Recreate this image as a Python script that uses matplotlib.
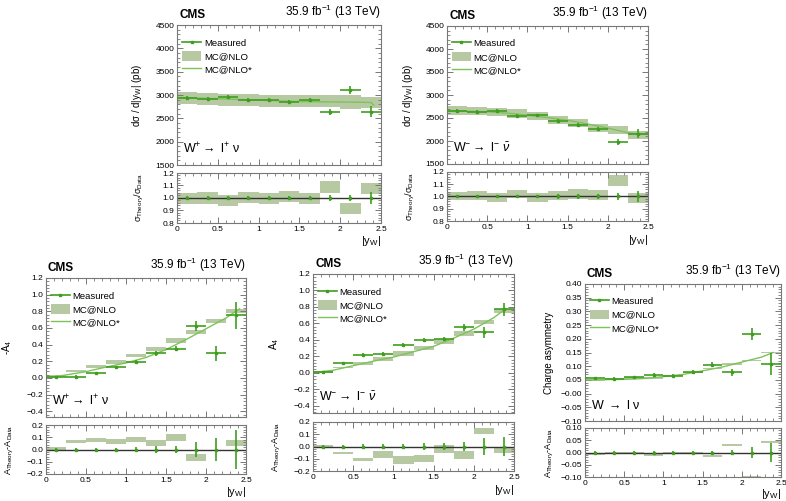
import numpy as np
import matplotlib
matplotlib.use('Agg')
import matplotlib.pyplot as plt
from matplotlib.patches import Patch
from matplotlib.lines import Line2D
from matplotlib.ticker import MultipleLocator, FuncFormatter

plt.rcParams['font.family'] = ['Liberation Sans', 'DejaVu Sans']
plt.rcParams['mathtext.fontset'] = 'custom'
plt.rcParams['mathtext.rm'] = 'Liberation Sans'
plt.rcParams['mathtext.it'] = 'Liberation Sans:italic'
plt.rcParams['mathtext.bf'] = 'Liberation Sans:bold'

# |y_W| binning
bin_edges = [0.0, 0.25, 0.5, 0.75, 1.0, 1.25, 1.5, 1.75, 2.0, 2.25, 2.5]

# W+ differential cross section (pb)
wp_xsec = [2940, 2920, 2960, 2890, 2900, 2850, 2890, 2640, 3110, 2640]
wp_xsec_err = [45, 45, 45, 45, 45, 45, 45, 60, 80, 120]
wp_xsec_mc = [2930, 2920, 2900, 2900, 2880, 2880, 2870, 2870, 2850, 2840]
wp_xsec_mc_err = [130, 130, 130, 130, 130, 130, 130, 130, 140, 120]
wp_xsec_curve_x = [0.0, 0.25, 0.5, 0.75, 1.0, 1.25, 1.5, 1.75, 2.0, 2.25, 2.38, 2.41]
wp_xsec_curve_y = [2950, 2935, 2920, 2905, 2890, 2875, 2860, 2855, 2850, 2845, 2840, 2780]

# W- differential cross section (pb)
wm_xsec = [2650, 2630, 2650, 2545, 2555, 2435, 2350, 2260, 1980, 2160]
wm_xsec_err = [40, 40, 40, 40, 40, 40, 40, 45, 60, 100]
wm_xsec_mc = [2665, 2650, 2625, 2595, 2540, 2460, 2395, 2285, 2245, 2130]
wm_xsec_mc_err = [90, 90, 90, 90, 90, 90, 90, 90, 90, 90]
wm_xsec_curve_x = [0.0, 0.25, 0.5, 0.75, 1.0, 1.25, 1.5, 1.75, 2.0, 2.25, 2.4, 2.5]
wm_xsec_curve_y = [2655, 2648, 2635, 2605, 2560, 2510, 2450, 2370, 2280, 2180, 2150, 2150]

# W+ angular coefficient -A4
wp_a4 = [0.01, 0.015, 0.06, 0.125, 0.19, 0.295, 0.35, 0.62, 0.295, 0.75]
wp_a4_err = [0.015, 0.015, 0.015, 0.015, 0.02, 0.03, 0.03, 0.06, 0.09, 0.16]
wp_a4_mc = [0.02, 0.08, 0.135, 0.19, 0.27, 0.35, 0.45, 0.555, 0.68, 0.805]
wp_a4_mc_err = [0.01, 0.01, 0.015, 0.02, 0.02, 0.025, 0.03, 0.025, 0.025, 0.025]
wp_a4_curve_x = [0.0, 0.25, 0.5, 0.75, 1.0, 1.25, 1.5, 1.75, 2.0, 2.25, 2.42]
wp_a4_curve_y = [0.0, 0.035, 0.075, 0.13, 0.18, 0.245, 0.34, 0.46, 0.59, 0.72, 0.83]

# W- angular coefficient A4
wm_a4 = [0.01, 0.12, 0.215, 0.23, 0.34, 0.40, 0.405, 0.55, 0.49, 0.77]
wm_a4_err = [0.015, 0.015, 0.02, 0.02, 0.02, 0.025, 0.025, 0.04, 0.07, 0.08]
wm_a4_mc = [0.01, 0.065, 0.11, 0.165, 0.23, 0.30, 0.385, 0.48, 0.615, 0.745]
wm_a4_mc_err = [0.01, 0.008, 0.015, 0.025, 0.03, 0.03, 0.03, 0.03, 0.025, 0.025]
wm_a4_curve_x = [0.0, 0.25, 0.5, 0.75, 1.0, 1.25, 1.5, 1.75, 2.0, 2.25, 2.4]
wm_a4_curve_y = [0.0, 0.03, 0.085, 0.14, 0.19, 0.255, 0.32, 0.42, 0.53, 0.67, 0.78]

# Charge asymmetry
asym = [0.056, 0.055, 0.059, 0.067, 0.065, 0.079, 0.106, 0.078, 0.218, 0.108]
asym_err = [0.006, 0.006, 0.006, 0.007, 0.006, 0.006, 0.008, 0.012, 0.022, 0.04]
asym_mc = [0.048, 0.053, 0.057, 0.057, 0.066, 0.077, 0.092, 0.108, 0.121, 0.15]
asym_mc_err = [0.003, 0.003, 0.003, 0.003, 0.003, 0.003, 0.003, 0.003, 0.003, 0.003]
asym_curve_x = [0.0, 0.5, 0.75, 1.0, 1.25, 1.5, 1.75, 2.0, 2.25, 2.4]
asym_curve_y = [0.05, 0.052, 0.055, 0.062, 0.07, 0.083, 0.097, 0.115, 0.133, 0.15]

GREEN = '#3f9e1f'
BAND = '#b6c9a2'
CURVE = '#7cc35a'
FRAME = '#777777'

FIG_W, FIG_H = 786, 501
fig = plt.figure(figsize=(FIG_W / 100, FIG_H / 100), dpi=100)


def px_rect(l, t, r, b):
    return [l / FIG_W, 1 - b / FIG_H, (r - l) / FIG_W, (b - t) / FIG_H]


def style_axes(a, ymaj, ymin, yfmt):
    a.set_xlim(0, 2.5)
    a.xaxis.set_major_locator(MultipleLocator(0.5))
    a.xaxis.set_minor_locator(MultipleLocator(0.1))
    a.yaxis.set_major_locator(MultipleLocator(ymaj))
    a.yaxis.set_minor_locator(MultipleLocator(ymin))
    a.yaxis.set_major_formatter(FuncFormatter(yfmt))
    a.xaxis.set_major_formatter(FuncFormatter(lambda v, p: f'{v:g}'))
    a.tick_params(which='both', direction='in', top=True, right=True,
                  labelsize=6, color=FRAME, pad=2)
    a.tick_params(which='major', length=4, width=0.7)
    a.tick_params(which='minor', length=2, width=0.6)
    for s in a.spines.values():
        s.set_color(FRAME)
        s.set_linewidth(0.8)


def draw_panel(main_px, ratio_px, xlab_top, meas, meas_err, mc, mc_err, cx, cy,
               ylim, ymaj, ymin, yfmt, ylabel, rlim, rmaj, rmin, rfmt, rlabel,
               process, kind):
    edges = np.array(bin_edges)
    lo = edges[:-1]
    width = np.diff(edges)
    centers = lo + width / 2
    meas = np.array(meas, float)
    meas_err = np.array(meas_err, float)
    mc = np.array(mc, float)
    mc_err = np.array(mc_err, float)

    ax = fig.add_axes(px_rect(*main_px))
    rax = fig.add_axes(px_rect(*ratio_px))

    # main panel
    ax.bar(lo, 2 * mc_err, bottom=mc - mc_err, width=width, align='edge',
           color=BAND, linewidth=0, zorder=1)
    ax.plot(cx, cy, color=CURVE, lw=1.0, zorder=2)
    ax.errorbar(centers, meas, xerr=width / 2, yerr=meas_err, fmt='s',
                ms=1.8, color=GREEN, elinewidth=1.2, capsize=0, zorder=3)
    ax.set_ylim(*ylim)
    style_axes(ax, ymaj, ymin, yfmt)
    ax.tick_params(labelbottom=False)
    ax.set_ylabel(ylabel, fontsize=7)
    ax.yaxis.set_label_coords(-0.16, 0.5)

    ax.text(0.01, 1.03, 'CMS', transform=ax.transAxes, fontsize=8.5,
            fontweight='bold', ha='left', va='bottom')
    ax.text(1.0, 1.03, '35.9 fb$^{-1}$ (13 TeV)', transform=ax.transAxes,
            fontsize=8.5, ha='right', va='bottom')
    ax.text(0.03, 0.115, process, transform=ax.transAxes, fontsize=9,
            ha='left', va='center')

    handles = [Line2D([], [], color=GREEN, lw=1.2, marker='s', ms=2),
               Patch(facecolor=BAND, edgecolor='none'),
               Line2D([], [], color=CURVE, lw=1.0)]
    ax.legend(handles, ['Measured', 'MC@NLO', 'MC@NLO*'], loc='upper left',
              bbox_to_anchor=(0.025, 0.91), frameon=False, fontsize=6.8,
              borderaxespad=0, borderpad=0, handlelength=2.0,
              handleheight=1.2, handletextpad=0.3, labelspacing=0.35)

    # comparison panel
    if kind == 'ratio':
        ref = 1.0
        r_lo = (mc - mc_err) / meas
        r_hi = (mc + mc_err) / meas
        r_err = meas_err / meas
    else:
        ref = 0.0
        r_lo = mc - mc_err - meas
        r_hi = mc + mc_err - meas
        r_err = meas_err
    rax.bar(lo, r_hi - r_lo, bottom=r_lo, width=width, align='edge',
            color=BAND, linewidth=0, zorder=1)
    rax.axhline(ref, color='#333333', lw=1.0, zorder=2)
    rax.errorbar(centers, np.full_like(centers, ref), yerr=r_err, fmt='s',
                 ms=1.8, color=GREEN, elinewidth=1.2, capsize=0, zorder=3)
    rax.set_ylim(*rlim)
    style_axes(rax, rmaj, rmin, rfmt)
    rax.set_ylabel(rlabel, fontsize=6.5)
    rax.yaxis.set_label_coords(-0.15, 0.5)

    fig.text(main_px[2] / FIG_W, 1 - xlab_top / FIG_H, '|y$_{\\mathrm{W}}$|',
             fontsize=8, ha='right', va='top')


fmt_int = lambda v, p: f'{v:.0f}'
fmt_1 = lambda v, p: f'{v:.1f}'.replace('-', '\u2212')
fmt_2 = lambda v, p: f'{v:.2f}'.replace('-', '\u2212')


def fmt_asym(v, p):
    # axis labels as written by the original plotting macro, zero included
    if abs(v) < 1e-9:
        return '\u22120.00'
    return f'{v:.2f}'.replace('-', '\u2212')


xsec_label = 'd\u03c3 / d|y$_{\\mathrm{W}}$| (pb)'
xsec_rlabel = '\u03c3$_{\\mathrm{Theory}}$/\u03c3$_{\\mathrm{Data}}$'
asym_rlabel = 'A$_{\\mathrm{Theory}}$-A$_{\\mathrm{Data}}$'

draw_panel((177, 25, 381, 165), (177, 173, 381, 223), 234,
           wp_xsec, wp_xsec_err, wp_xsec_mc, wp_xsec_mc_err,
           wp_xsec_curve_x, wp_xsec_curve_y,
           (1500, 4500), 500, 100, fmt_int, xsec_label,
           (0.8, 1.2), 0.1, 0.02, fmt_1, xsec_rlabel,
           'W$^{+}$$\\rightarrow$ l$^{+}$ \u03bd', 'ratio')

draw_panel((447, 26, 648, 164), (447, 172, 648, 221), 233,
           wm_xsec, wm_xsec_err, wm_xsec_mc, wm_xsec_mc_err,
           wm_xsec_curve_x, wm_xsec_curve_y,
           (1500, 4500), 500, 100, fmt_int, xsec_label,
           (0.8, 1.2), 0.1, 0.02, fmt_1, xsec_rlabel,
           'W$^{-}$$\\rightarrow$ l$^{-}$ $\\bar{\\nu}$', 'ratio')

draw_panel((46, 278, 246, 417), (46, 425, 246, 474), 485,
           wp_a4, wp_a4_err, wp_a4_mc, wp_a4_mc_err,
           wp_a4_curve_x, wp_a4_curve_y,
           (-0.47, 1.2), 0.2, 0.04, fmt_1, '-A$_{4}$',
           (-0.2, 0.2), 0.1, 0.02, fmt_1, asym_rlabel,
           'W$^{+}$$\\rightarrow$ l$^{+}$ \u03bd', 'diff')

draw_panel((313, 274, 514, 413), (313, 422, 514, 471), 483,
           wm_a4, wm_a4_err, wm_a4_mc, wm_a4_mc_err,
           wm_a4_curve_x, wm_a4_curve_y,
           (-0.49, 1.2), 0.2, 0.04, fmt_1, 'A$_{4}$',
           (-0.2, 0.2), 0.1, 0.02, fmt_1, asym_rlabel,
           'W$^{-}$$\\rightarrow$ l$^{-}$ $\\bar{\\nu}$', 'diff')

draw_panel((585, 284, 781, 421), (585, 428, 781, 477), 487,
           asym, asym_err, asym_mc, asym_mc_err,
           asym_curve_x, asym_curve_y,
           (-0.1, 0.4), 0.05, 0.01, fmt_asym, 'Charge asymmetry',
           (-0.1, 0.1), 0.05, 0.01, fmt_2, asym_rlabel,
           'W $\\rightarrow$ l \u03bd', 'diff')

fig.savefig('out.png', dpi=100)
